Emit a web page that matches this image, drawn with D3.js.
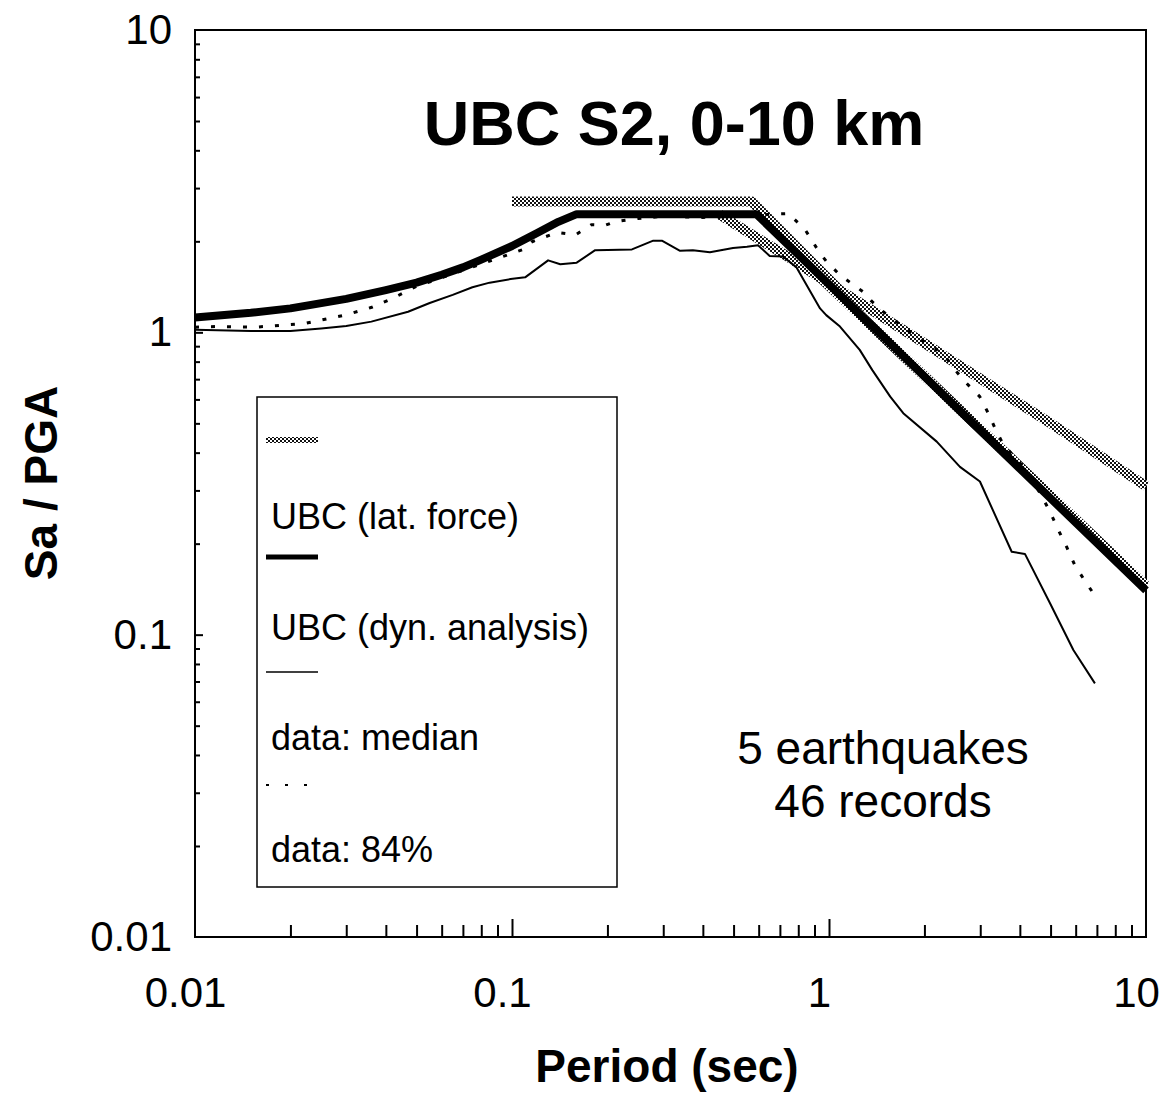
<!DOCTYPE html>
<html>
<head>
<meta charset="utf-8">
<script src="https://cdn.jsdelivr.net/npm/d3@7"></script>
<style>
  html, body { margin: 0; padding: 0; background: #fff; }
  svg { display: block; }
  text { font-family: "Liberation Sans", Arial, sans-serif; fill: #000; }
</style>
</head>
<body>
<svg id="chart" width="1172" height="1095"></svg>
<script>
// Response spectra normalised by PGA: period (s) vs Sa/PGA, both log scaled.
const xTickValues = [0.01, 0.1, 1, 10];
const xTickLabels = ["0.01", "0.1", "1", "10"];
const yTickValues = [0.01, 0.1, 1, 10];
const yTickLabels = ["0.01", "0.1", "1", "10"];

// UBC lateral-force spectrum [period, Sa/PGA]
const latForce = [[0.1, 2.71], [0.57, 2.71], [1.08, 1.38], [2, 0.92], [5, 0.50], [10, 0.31]];
// second branch of the lateral-force spectrum
const latForceBranch = [[0.45, 2.46], [0.74, 1.78], [0.95, 1.50], [10, 0.145]];
// UBC dynamic-analysis spectrum
const dynAnalysis = [[0.01, 1.12], [0.015, 1.16], [0.02, 1.20], [0.03, 1.29], [0.04, 1.38],
  [0.05, 1.46], [0.06, 1.55], [0.07, 1.64], [0.08, 1.74], [0.1, 1.93], [0.12, 2.13],
  [0.14, 2.32], [0.16, 2.46], [0.59, 2.46], [10, 0.14]];
// recorded data, median
const dataMedian = [[0.01, 1.02], [0.015, 1.01], [0.02, 1.01], [0.025, 1.03], [0.03, 1.05],
  [0.036, 1.085], [0.047, 1.17], [0.055, 1.25], [0.065, 1.33], [0.075, 1.41], [0.085, 1.46],
  [0.099, 1.50], [0.11, 1.52], [0.13, 1.73], [0.142, 1.68], [0.16, 1.70], [0.183, 1.87],
  [0.239, 1.88], [0.279, 2.01], [0.297, 2.01], [0.339, 1.86], [0.372, 1.87], [0.421, 1.84],
  [0.498, 1.90], [0.551, 1.92], [0.597, 1.94], [0.65, 1.79], [0.716, 1.78], [0.79, 1.64],
  [0.937, 1.20], [0.98, 1.14], [1.083, 1.045], [1.25, 0.875], [1.37, 0.75], [1.56, 0.613],
  [1.715, 0.54], [2.187, 0.435], [2.589, 0.359], [2.993, 0.321], [3.77, 0.188], [4.15, 0.185],
  [4.98, 0.127], [5.90, 0.089], [6.90, 0.069]];
// recorded data, 84th percentile
const data84 = [[0.01, 1.04], [0.0117, 1.045], [0.0155, 1.04], [0.0222, 1.07], [0.0297, 1.14],
  [0.0361, 1.21], [0.0417, 1.29], [0.05, 1.42], [0.065, 1.56], [0.085, 1.72], [0.1085, 1.88],
  [0.1152, 1.99], [0.1386, 2.14], [0.1584, 2.10], [0.178, 2.27], [0.197, 2.26], [0.2106, 2.32],
  [0.25, 2.38], [0.3, 2.42], [0.4, 2.40], [0.5, 2.42], [0.6, 2.44], [0.659, 2.46], [0.745, 2.47],
  [0.84, 2.19], [0.935, 1.83], [0.98, 1.72], [1.08, 1.55], [1.283, 1.36], [1.36, 1.27],
  [1.483, 1.17], [1.91, 0.956], [2.16, 0.886], [2.35, 0.82], [2.55, 0.732], [2.71, 0.68],
  [2.99, 0.613], [3.18, 0.54], [3.38, 0.469], [3.55, 0.425], [4.15, 0.355], [4.63, 0.294],
  [4.98, 0.255], [5.29, 0.222], [5.62, 0.195], [5.96, 0.170], [6.43, 0.150], [6.99, 0.132]];

const legendLabels = ["UBC (lat. force)", "UBC (dyn. analysis)", "data: median", "data: 84%"];
const noteLines = ["5 earthquakes", "46 records"];
const titleText = "UBC S2, 0-10 km";
const xTitle = "Period (sec)";
const yTitle = "Sa / PGA";

const svg = d3.select("#chart");
const plot = { left: 195, right: 1146, top: 30, bottom: 937 };

const x = d3.scaleLog().domain([0.01, 10]).range([plot.left, plot.right]);
const y = d3.scaleLog().domain([0.01, 10]).range([plot.bottom, plot.top]);

// halftone fill used for the lateral-force curve
const defs = svg.append("defs");
const pat = defs.append("pattern").attr("id", "halftone")
  .attr("patternUnits", "userSpaceOnUse").attr("width", 4).attr("height", 4);
pat.append("rect").attr("width", 4).attr("height", 4).attr("fill", "#fff");
pat.append("rect").attr("x", 0).attr("y", 0).attr("width", 2).attr("height", 2).attr("fill", "#111");
pat.append("rect").attr("x", 2).attr("y", 2).attr("width", 2).attr("height", 2).attr("fill", "#111");

// minor tick values inside each decade
const minorVals = [];
[0.01, 0.1, 1].forEach(dec => { for (let k = 2; k <= 9; k++) minorVals.push(+(k * dec).toPrecision(3)); });

// x ticks (pointing into the plot)
svg.append("g").attr("transform", `translate(0,${plot.bottom})`)
  .call(d3.axisBottom(x).tickValues(minorVals).tickSize(-12).tickFormat(""))
  .call(g => g.select(".domain").remove())
  .selectAll("line").attr("stroke", "#000").attr("stroke-width", 2);
svg.append("g").attr("transform", `translate(0,${plot.bottom})`)
  .call(d3.axisBottom(x).tickValues([0.1, 1]).tickSize(-18).tickFormat(""))
  .call(g => g.select(".domain").remove())
  .selectAll("line").attr("stroke", "#000").attr("stroke-width", 2);
const xLab = svg.append("g").attr("transform", `translate(0,${plot.bottom})`)
  .call(d3.axisBottom(x).tickValues(xTickValues).tickSize(0).tickPadding(40)
    .tickFormat((d, i) => xTickLabels[i]));
xLab.select(".domain").remove();
xLab.selectAll("text").attr("font-size", 42).attr("dx", -10)
  .attr("font-family", "'Liberation Sans', Arial, sans-serif").attr("fill", "#000");

// y ticks
svg.append("g").attr("transform", `translate(${plot.left},0)`)
  .call(d3.axisLeft(y).tickValues(minorVals).tickSize(-5).tickFormat(""))
  .call(g => g.select(".domain").remove())
  .selectAll("line").attr("stroke", "#000").attr("stroke-width", 2);
svg.append("g").attr("transform", `translate(${plot.left},0)`)
  .call(d3.axisLeft(y).tickValues([0.1, 1]).tickSize(-8).tickFormat(""))
  .call(g => g.select(".domain").remove())
  .selectAll("line").attr("stroke", "#000").attr("stroke-width", 2);
const yLab = svg.append("g").attr("transform", `translate(${plot.left},0)`)
  .call(d3.axisLeft(y).tickValues(yTickValues).tickSize(0).tickPadding(23)
    .tickFormat((d, i) => yTickLabels[i]));
yLab.select(".domain").remove();
yLab.selectAll("text").attr("font-size", 42)
  .attr("font-family", "'Liberation Sans', Arial, sans-serif").attr("fill", "#000");

// plot frame
svg.append("rect")
  .attr("x", plot.left).attr("y", plot.top)
  .attr("width", plot.right - plot.left).attr("height", plot.bottom - plot.top)
  .attr("fill", "none").attr("stroke", "#000").attr("stroke-width", 2);

const line = d3.line().x(d => x(d[0])).y(d => y(d[1]));

const curves = svg.append("g").attr("fill", "none").attr("stroke-linejoin", "round");
curves.append("path").datum(latForce).attr("d", line)
  .attr("stroke", "url(#halftone)").attr("stroke-width", 10);
curves.append("path").datum(latForceBranch).attr("d", line)
  .attr("stroke", "url(#halftone)").attr("stroke-width", 10);
curves.append("path").datum(dynAnalysis).attr("d", line)
  .attr("stroke", "#000").attr("stroke-width", 8);
curves.append("path").datum(dataMedian).attr("d", line)
  .attr("stroke", "#000").attr("stroke-width", 2);
curves.append("path").datum(data84).attr("d", line)
  .attr("stroke", "#000").attr("stroke-width", 3).attr("stroke-dasharray", "4,12");

// title
svg.append("text").attr("x", 674).attr("y", 145).attr("text-anchor", "middle")
  .attr("font-size", 63).attr("font-weight", "bold").text(titleText);

// axis titles
svg.append("text").attr("x", 667).attr("y", 1082).attr("text-anchor", "middle")
  .attr("font-size", 46).attr("font-weight", "bold").text(xTitle);
svg.append("text").attr("transform", "translate(57,483) rotate(-90)").attr("text-anchor", "middle")
  .attr("font-size", 46).attr("font-weight", "bold").text(yTitle);

// legend: each swatch sits above its label
const legend = svg.append("g");
legend.append("rect").attr("x", 257).attr("y", 397).attr("width", 360).attr("height", 490)
  .attr("fill", "#fff").attr("stroke", "#000").attr("stroke-width", 1.5);
const swatchY = [440, 557, 672, 785];
const labelY = [529, 640, 750, 862];
const swatchStyle = [
  { stroke: "url(#halftone)", width: 6, dash: null },
  { stroke: "#000", width: 5, dash: null },
  { stroke: "#000", width: 1.5, dash: null },
  { stroke: "#000", width: 2, dash: "3,16" }
];
legendLabels.forEach((lab, i) => {
  const s = swatchStyle[i];
  legend.append("line").attr("x1", 266).attr("x2", 318)
    .attr("y1", swatchY[i]).attr("y2", swatchY[i])
    .attr("stroke", s.stroke).attr("stroke-width", s.width)
    .attr("stroke-dasharray", s.dash);
  legend.append("text").attr("x", 271).attr("y", labelY[i])
    .attr("font-size", 36).text(lab);
});

// record count note
svg.append("g").selectAll("text").data(noteLines).join("text")
  .attr("x", 883).attr("y", (d, i) => 764 + i * 53)
  .attr("text-anchor", "middle").attr("font-size", 46).text(d => d);
</script>
</body>
</html>
